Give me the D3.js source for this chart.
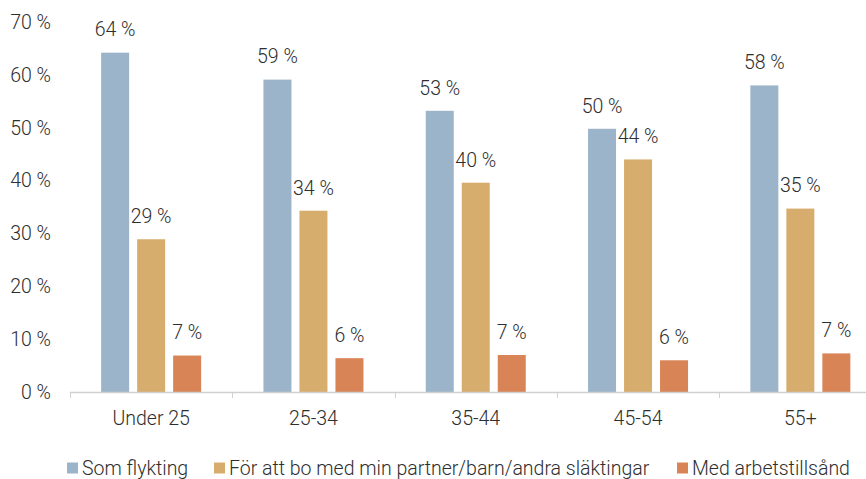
<!DOCTYPE html>
<html>
<head>
<meta charset="utf-8">
<script src="https://cdn.jsdelivr.net/npm/d3@7"></script>
<style>
  html, body { margin: 0; padding: 0; background: #fff; }
  svg { display: block; }
  text { font-family: Roboto, "Liberation Sans", sans-serif; font-weight: 300; }
</style>
</head>
<body>
<script>
const WIDTH = 866;
const HEIGHT = 479;

const categories = ['Under 25', '25-34', '35-44', '45-54', '55+'];
const seriesNames = ['Som flykting', 'För att bo med min partner/barn/andra släktingar', 'Med arbetstillsånd'];
const refugee = [64.2, 59.1, 53.2, 49.8, 58.0];
const family = [28.9, 34.3, 39.6, 44.0, 34.7];
const work = [6.9, 6.4, 7.0, 6.0, 7.3];
const labelsRefugee = ['64 %', '59 %', '53 %', '50 %', '58 %'];
const labelsFamily = ['29 %', '34 %', '40 %', '44 %', '35 %'];
const labelsWork = ['7 %', '6 %', '7 %', '6 %', '7 %'];
const yTicks = [0, 10, 20, 30, 40, 50, 60, 70];

const colors = ['#9bb4ca', '#d7ad6d', '#d98456'];
const TEXT = '#2e2e2e';
const FS = 19.5;

const series = [
    { name: seriesNames[0], values: refugee, labels: labelsRefugee },
    { name: seriesNames[1], values: family, labels: labelsFamily },
    { name: seriesNames[2], values: work, labels: labelsWork },
];

const svg = d3.select('body').append('svg')
    .attr('width', WIDTH)
    .attr('height', HEIGHT)
    .attr('viewBox', [0, 0, WIDTH, HEIGHT]);

// plot runs past the right edge, as in the source image
const x0 = d3.scaleBand()
    .domain(categories)
    .range([70, 881.5])
    .padding(0);

const x1 = d3.scaleBand()
    .domain(seriesNames)
    .range([-50, 50])
    .paddingInner(8 / 36)
    .paddingOuter(0);

const y = d3.scaleLinear()
    .domain([0, 70])
    .range([392, 22]);

// y tick labels (no axis line, no grid)
svg.append('g')
        .attr('font-size', FS)
        .attr('fill', TEXT)
    .selectAll('text')
    .data(yTicks)
    .join('text')
        .attr('x', 51)
        .attr('y', d => y(d))
        .attr('dy', '0.35em')
        .attr('text-anchor', 'end')
        .text(d => `${d} %`);

// bars
const groups = svg.append('g')
    .selectAll('g')
    .data(series)
    .join('g')
        .attr('fill', (d, i) => colors[i]);

groups.selectAll('rect')
    .data(s => s.values.map((v, i) => ({ cat: categories[i], v, name: s.name })))
    .join('rect')
        .attr('x', d => x0(d.cat) + x0.bandwidth() / 2 + x1(d.name))
        .attr('y', d => y(d.v))
        .attr('width', x1.bandwidth())
        .attr('height', d => y(0) - y(d.v));

// value labels
svg.append('g')
        .attr('font-size', FS)
        .attr('fill', TEXT)
        .attr('text-anchor', 'middle')
    .selectAll('text')
    .data(series.flatMap(s => s.values.map((v, i) => ({ cat: categories[i], v, name: s.name, label: s.labels[i] }))))
    .join('text')
        .attr('x', d => x0(d.cat) + x0.bandwidth() / 2 + x1(d.name) + x1.bandwidth() / 2)
        .attr('y', d => y(d.v) - 23)
        .attr('dy', '0.35em')
        .text(d => d.label);

// x axis: baseline and boundary ticks
const xAxis = svg.append('g');
xAxis.append('line')
    .attr('x1', x0.range()[0])
    .attr('x2', x0.range()[1])
    .attr('y1', y(0) + 0.5)
    .attr('y2', y(0) + 0.5)
    .attr('stroke', '#d0d0d0')
    .attr('stroke-width', 1.3);

xAxis.selectAll('line.tick')
    .data(categories.concat([null]))
    .join('line')
        .attr('class', 'tick')
        .attr('x1', (d, i) => Math.round(x0.range()[0] + i * x0.step()) + 0.5)
        .attr('x2', (d, i) => Math.round(x0.range()[0] + i * x0.step()) + 0.5)
        .attr('y1', y(0))
        .attr('y2', y(0) + 6)
        .attr('stroke', '#d0d0d0');

xAxis.selectAll('text')
    .data(categories)
    .join('text')
        .attr('x', d => x0(d) + x0.bandwidth() / 2)
        .attr('y', 418)
        .attr('dy', '0.35em')
        .attr('text-anchor', 'middle')
        .attr('font-size', FS)
        .attr('fill', TEXT)
        .text(d => d);

// legend
const legendX = [67, 214, 677];
const legend = svg.append('g')
    .selectAll('g')
    .data(seriesNames)
    .join('g')
        .attr('transform', (d, i) => `translate(${legendX[i]},468)`);

legend.append('rect')
    .attr('x', 0)
    .attr('y', -5.5)
    .attr('width', 11)
    .attr('height', 11)
    .attr('fill', (d, i) => colors[i]);

legend.append('text')
    .attr('x', 15)
    .attr('y', 0)
    .attr('dy', '0.35em')
    .attr('font-size', FS)
    .attr('fill', TEXT)
    .text(d => d);
</script>
</body>
</html>
